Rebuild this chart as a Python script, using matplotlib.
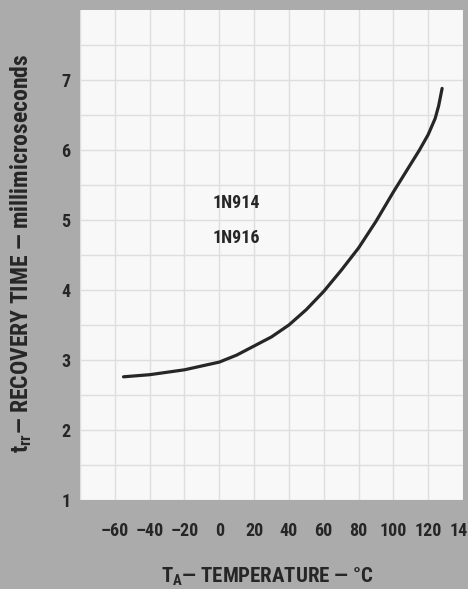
import matplotlib
matplotlib.use("Agg")
import matplotlib.pyplot as plt
from matplotlib import font_manager

# recovery time vs temperature (1N914 / 1N916)
temp_c = [-55, -50, -40, -20, 0, 10, 20, 30, 40, 50, 60, 70, 80, 90, 100, 110, 115, 120, 124, 126, 128]
trr_ns = [2.76, 2.77, 2.79, 2.86, 2.97, 3.07, 3.2, 3.33, 3.5, 3.72, 3.98, 4.28, 4.6, 4.98, 5.4, 5.8, 6.0, 6.22, 6.45, 6.63, 6.88]

x_ticks = [-60, -40, -20, 0, 20, 40, 60, 80, 100, 120, 140]
x_labels = ["–60", "–40", "–20", "0", "20", "40", "60", "80", "100", "120", "140"]
y_ticks = [1, 2, 3, 4, 5, 6, 7]
devices = ["1N914", "1N916"]

# pick a narrow face if one is there
installed = {f.name for f in font_manager.fontManager.ttflist}
main = "Roboto"
for cand in ["Liberation Sans Narrow", "DejaVu Sans Condensed", "Roboto Condensed", "Roboto"]:
    if cand in installed:
        main = cand
        break

plt.rcParams["font.family"] = [main, "DejaVu Sans"]
plt.rcParams["font.weight"] = "bold"
plt.rcParams["mathtext.fontset"] = "custom"
plt.rcParams["mathtext.rm"] = main + ":bold"
plt.rcParams["mathtext.it"] = main + ":bold"
plt.rcParams["mathtext.bf"] = main + ":bold"

BG = "#ababab"
INK = "#262626"

fig = plt.figure(figsize=(4.68, 5.89), dpi=100, facecolor=BG)
ax = fig.add_axes([80 / 468, 1 - 500 / 589, 383 / 468, 490 / 589])
ax.set_facecolor("#f8f8f8")

ax.plot(temp_c, trr_ns, color=INK, lw=2.3, solid_capstyle="round", solid_joinstyle="round")

ax.set_xlim(-80, 140)
ax.set_ylim(1, 8)
ax.set_xticks(x_ticks)
ax.set_xticklabels(x_labels)
ax.set_yticks(y_ticks)
ax.set_xticks([-80], minor=True)
ax.set_yticks([1.5 + i for i in range(7)], minor=True)
ax.grid(True, which="both", color="#dedede", lw=1.0)
ax.set_axisbelow(True)
ax.tick_params(which="both", length=0)
ax.tick_params(axis="x", pad=16, labelsize=13, labelcolor=INK)
ax.tick_params(axis="y", pad=7, labelsize=13, labelcolor=INK)
for s in ax.spines.values():
    s.set_visible(False)

ax.text(10, 5.24, devices[0], ha="center", va="center", fontsize=13, color=INK)
ax.text(10, 4.74, devices[1], ha="center", va="center", fontsize=13, color=INK)

fig.text(267 / 468, 1 - 577 / 589, r"$\mathrm{T_A}$— TEMPERATURE — °C",
         ha="center", va="center", fontsize=15, color=INK)
fig.text(21 / 468, 1 - 253 / 589, r"$\mathrm{t_{rr}}$— RECOVERY TIME — millimicroseconds",
         ha="center", va="center", rotation=90, fontsize=17, color=INK)

fig.savefig("out.png", dpi=100, facecolor=BG)
